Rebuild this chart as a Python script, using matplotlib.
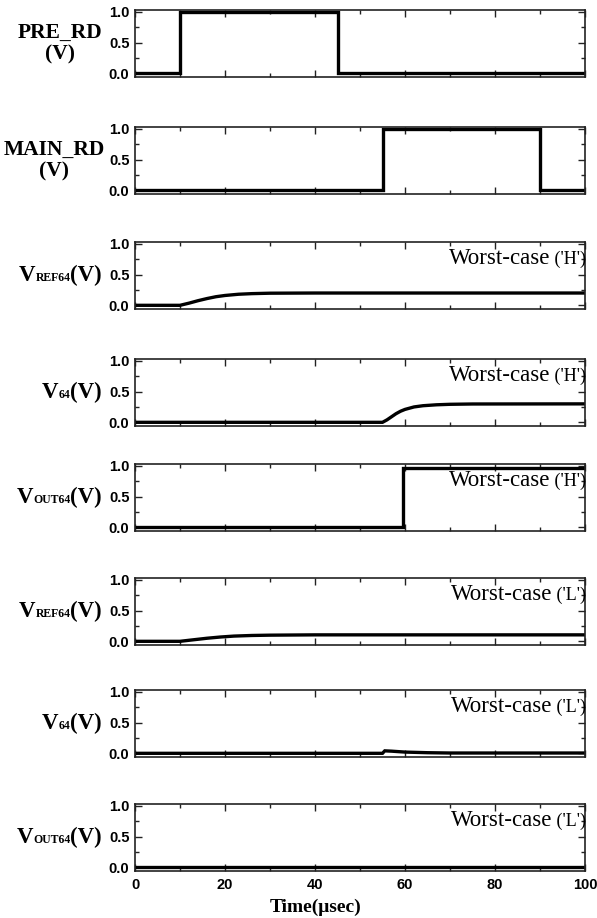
import matplotlib
matplotlib.use("Agg")
import matplotlib.pyplot as plt
from matplotlib.offsetbox import TextArea, HPacker, AnnotationBbox
from matplotlib.ticker import MultipleLocator
from matplotlib.transforms import blended_transform_factory

# waveforms (time in usec, voltage in V)
t_pre = [0, 10, 10, 45, 45, 100]
v_pre = [0, 0, 1, 1, 0, 0]

t_main = [0, 55, 55, 90, 90, 100]
v_main = [0, 0, 1, 1, 0, 0]

t_vref_h = [0, 10, 12, 14, 16, 18, 20, 23, 26, 30, 40, 100]
v_vref_h = [0, 0, 0.035, 0.075, 0.11, 0.14, 0.16, 0.18, 0.19, 0.197, 0.2, 0.2]

t_v64_h = [0, 55, 56, 57, 58, 59, 60, 62, 64, 67, 70, 75, 100]
v_v64_h = [0, 0, 0.04, 0.09, 0.14, 0.18, 0.21, 0.25, 0.27, 0.285, 0.293, 0.298, 0.3]

t_vout_h = [0, 59.5, 59.5, 100]
v_vout_h = [0, 0, 0.96, 0.96]

t_vref_l = [0, 10, 13, 16, 19, 22, 26, 30, 40, 100]
v_vref_l = [0, 0, 0.025, 0.05, 0.07, 0.085, 0.095, 0.1, 0.105, 0.105]

t_v64_l = [0, 55, 55.5, 57, 60, 65, 70, 100]
v_v64_l = [0, 0, 0.04, 0.035, 0.02, 0.01, 0.005, 0.005]

t_vout_l = [0, 100]
v_vout_l = [0, 0]

# (label pieces, worst-case tag, t, v)
PANELS = [
    ("PRE_RD\n(V)", None, t_pre, v_pre),
    ("MAIN_RD\n(V)", None, t_main, v_main),
    (("V", "REF64", "(V)"), "'H'", t_vref_h, v_vref_h),
    (("V", "64", "(V)"), "'H'", t_v64_h, v_v64_h),
    (("V", "OUT64", "(V)"), "'H'", t_vout_h, v_vout_h),
    (("V", "REF64", "(V)"), "'L'", t_vref_l, v_vref_l),
    (("V", "64", "(V)"), "'L'", t_v64_l, v_v64_l),
    (("V", "OUT64", "(V)"), "'L'", t_vout_l, v_vout_l),
]

SERIF = "Liberation Serif"
SANS = "Liberation Sans"
W, H = 597, 918
tops = [10, 127, 242, 359, 464, 578, 690, 804]
ax_h = 67

fig = plt.figure(figsize=(W / 100, H / 100), dpi=100)

for i, (lab, tag, t, v) in enumerate(PANELS):
    top = tops[i]
    ax = fig.add_axes([135 / W, (H - top - ax_h) / H, 450 / W, ax_h / H])
    ax.plot(t, v, color="black", linewidth=2.4, solid_joinstyle="miter")
    ax.set_xlim(0, 100)
    ax.set_ylim(-0.06, 1.03)
    ax.xaxis.set_major_locator(MultipleLocator(20))
    ax.xaxis.set_minor_locator(MultipleLocator(10))
    ax.yaxis.set_major_locator(MultipleLocator(0.5))
    ax.yaxis.set_minor_locator(MultipleLocator(0.25))
    ax.tick_params(which="both", direction="in", top=True, right=True, width=1.0, color="#222222")
    ax.tick_params(which="major", length=5)
    ax.tick_params(which="minor", length=3)
    ax.tick_params(axis="y", pad=4)
    ax.tick_params(axis="x", pad=5)
    for s in ax.spines.values():
        s.set_linewidth(1.2)
        s.set_color("#222222")
    for tl in ax.get_yticklabels():
        tl.set_fontfamily(SANS)
        tl.set_fontweight("bold")
        tl.set_fontsize(10.5)
    if i < len(PANELS) - 1:
        ax.set_xticklabels([])
    else:
        for tl in ax.get_xticklabels():
            tl.set_fontfamily(SANS)
            tl.set_fontweight("bold")
            tl.set_fontsize(10.5)

    # y label, left of the tick labels
    trans = blended_transform_factory(fig.transFigure, ax.transAxes)
    if isinstance(lab, str):
        box = TextArea(lab, textprops=dict(family=SERIF, weight="bold", size=15.5,
                                           multialignment="center", linespacing=1.1))
        xr = 102 if i == 0 else 105
    else:
        big, sub, unit = lab
        box = HPacker(children=[
            TextArea(big, textprops=dict(family=SERIF, weight="bold", size=16.5)),
            TextArea(sub, textprops=dict(family=SERIF, weight="bold", size=8.5)),
            TextArea(unit, textprops=dict(family=SERIF, weight="bold", size=16.5)),
        ], align="baseline", pad=0, sep=0)
        xr = 102
    ab = AnnotationBbox(box, (xr / W, 0.5), xycoords=trans, box_alignment=(1, 0.5),
                        frameon=False, pad=0)
    ax.add_artist(ab)

    if tag is not None:
        wbox = HPacker(children=[
            TextArea("Worst-case", textprops=dict(family=SERIF, size=16.5)),
            TextArea(" (" + tag + ")", textprops=dict(family=SERIF, size=13)),
        ], align="baseline", pad=0, sep=0)
        wab = AnnotationBbox(wbox, (1, 1), xycoords="axes fraction", xybox=(1, -4),
                             boxcoords="offset points", box_alignment=(1, 1),
                             frameon=False, pad=0)
        ax.add_artist(wab)

fig.text(316 / W, 1 - 907 / H, "Time(\u03bcsec)", family=SERIF, weight="bold",
         size=14, ha="center", va="center")

fig.savefig("out.png", dpi=100)
